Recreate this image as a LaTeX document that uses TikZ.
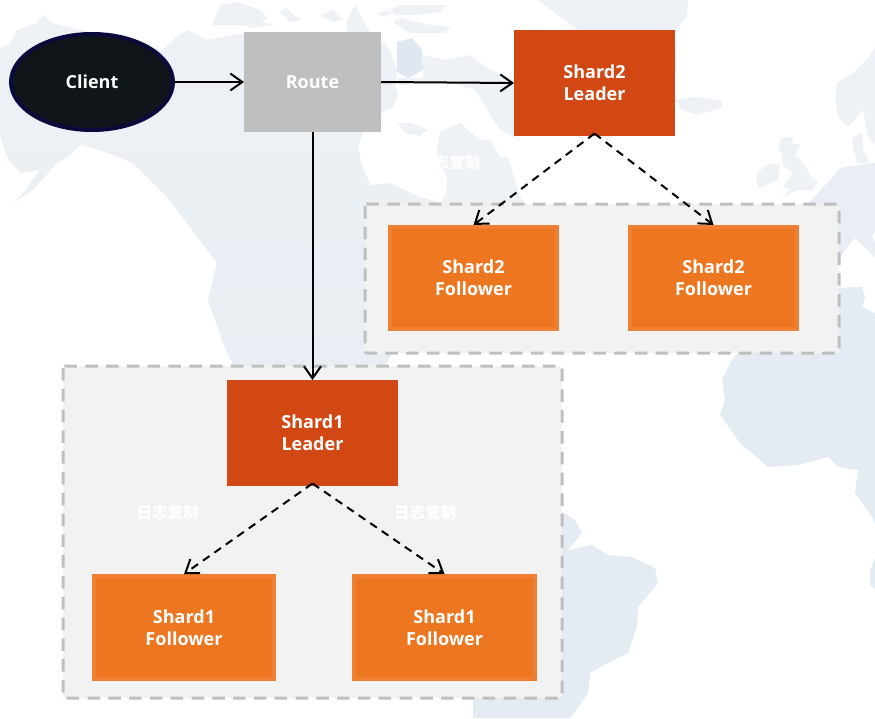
\documentclass[tikz,border=0pt]{standalone}
\usepackage{fontspec}
\setmainfont{Open Sans}
\newfontfamily\cjkfont{Noto Sans CJK SC}
\usetikzlibrary{shapes.geometric,arrows.meta}
\definecolor{landN}{HTML}{EEF2F6}
\definecolor{landM}{HTML}{E9EEF4}
\definecolor{landS}{HTML}{E5EBF2}
\definecolor{landD}{HTML}{E0E7F0}
\definecolor{panelfill}{HTML}{F2F2F2}
\definecolor{panelline}{HTML}{BFBFBF}
\definecolor{leaderfill}{HTML}{D14815}
\definecolor{followerfill}{HTML}{ED7620}
\definecolor{followerline}{HTML}{EF8033}
\definecolor{clientfill}{HTML}{0F1519}
\definecolor{clientline}{HTML}{0B0A3C}
\tikzset{
  boxtext/.style={text=white,font=\fontsize{18}{22}\selectfont\bfseries,align=center,inner sep=0pt},
  leaderbox/.style={boxtext,rectangle,fill=leaderfill,outer sep=0pt},
  followerbox/.style={boxtext,rectangle,fill=followerfill,draw=followerline,line width=4pt},
  routebox/.style={boxtext,rectangle,fill=panelline,outer sep=0pt,minimum width=137pt,minimum height=100pt},
  clientshape/.style={boxtext,ellipse,fill=clientfill,draw=clientline,line width=4pt,minimum width=162pt,minimum height=96pt},
  panelbox/.style={fill=panelfill,draw=panelline,line width=3pt,dash pattern=on 12.5pt off 8.3pt,rounded corners=2pt},
  solidlink/.style={draw=black,line width=2pt,-{Straight Barb[length=12pt,width=17pt,line width=2pt]}},
  dashlink/.style={draw=black,line width=2pt,dash pattern=on 8pt off 6pt,-{Straight Barb[length=12pt,width=17pt,line width=2pt]}},
  loglabel/.style={text=white,font=\fontsize{15.5}{18}\selectfont\cjkfont\bfseries,inner sep=0pt},
  landn/.style={fill=landN},
  landm/.style={fill=landM},
  lands/.style={fill=landS},
  landd/.style={fill=landD},
}
\begin{document}
\begin{tikzpicture}[x=1pt,y=-1pt]
\useasboundingbox (0,0) rectangle (875,718);
\fill[white] (0,0) rectangle (875,718);
% North America
\path[top color=landN,bottom color=landM] (0,48) -- (10,43) -- (17,30) -- (37,23) -- (43,15) -- (53,23) -- (120,40) -- (163,50) -- (175,38) -- (188,30) -- (200,36) -- (207,40) -- (244,33) -- (381,40) -- (390,50) -- (397,70) -- (395,85) -- (398,95) -- (392,108) -- (380,113) -- (362,135) -- (358,147) -- (362,165) -- (370,185) -- (390,183) -- (420,197) -- (445,204) -- (400,340) -- (385,366) -- (240,380) -- (223,343) -- (208,300) -- (217,263) -- (190,227) -- (167,197) -- (133,163) -- (100,150) -- (80,145) -- (70,155) -- (57,163) -- (33,190) -- (13,203) -- (22,194) -- (40,170) -- (20,173) -- (7,157) -- (0,135) -- cycle;
% Arctic islands, west
\path[landn] (212,25) -- (220,5) -- (237,2) -- (260,10) -- (268,18) -- (262,22) -- (275,25) -- (253,28) -- (243,25) -- (220,25) -- cycle;
\path[landn] (280,12) -- (287,8) -- (293,15) -- (303,20) -- (290,22) -- cycle;
\path[landn] (320,15) -- (333,10) -- (343,20) -- (333,22) -- cycle;
\path[landn] (347,20) -- (355,5) -- (363,20) -- (370,32) -- (347,32) -- cycle;
\path[landn] (377,14) -- (385,11) -- (393,12) -- (385,17) -- cycle;
% Arctic islands, east
\path[landn] (390,10) -- (400,5) -- (447,5) -- (440,12) -- (415,15) -- (395,15) -- cycle;
\path[landn] (393,22) -- (400,18) -- (430,25) -- (450,27) -- (445,33) -- (410,33) -- cycle;
\path[landn] (397,78) -- (423,78) -- (423,55) -- (445,60) -- (470,55) -- (490,70) -- (514,80) -- (514,135) -- (520,140) -- (500,130) -- (483,103) -- (475,90) -- (450,82) -- (420,82) -- (400,85) -- cycle;
\path[landd] (397,42) -- (412,38) -- (422,50) -- (423,70) -- (408,78) -- (397,72) -- cycle;
\path[landn] (398,123) -- (412,123) -- (427,130) -- (420,136) -- (405,133) -- cycle;
% Quebec and Labrador
\path[landn] (440,132) -- (460,123) -- (480,140) -- (490,140) -- (500,157) -- (508,157) -- (520,197) -- (527,206) -- (440,206) -- (447,190) -- (447,177) -- (440,165) -- (437,150) -- cycle;
% Greenland
\path[landn] (538,0) -- (688,0) -- (687,17) -- (675,30) -- (676,70) -- (650,110) -- (608,140) -- (585,133) -- (560,100) -- (578,30) -- cycle;
% Iceland
\path[landn] (675,100) -- (695,97) -- (722,101) -- (722,107) -- (698,115) -- (682,110) -- cycle;
% Ireland and Britain
\path[landn] (758,172) -- (770,163) -- (780,165) -- (778,180) -- (760,188) -- (756,183) -- cycle;
\path[landn] (782,138) -- (793,137) -- (792,143) -- (800,145) -- (795,155) -- (803,163) -- (812,178) -- (818,182) -- (812,190) -- (797,190) -- (782,198) -- (790,190) -- (783,187) -- (793,173) -- (783,165) -- (782,155) -- (778,147) -- cycle;
% Scandinavia and Denmark
\path[landn] (875,47) -- (867,60) -- (853,73) -- (837,83) -- (835,97) -- (838,117) -- (848,127) -- (863,110) -- (868,137) -- (875,145) -- cycle;
\path[landn] (853,137) -- (862,133) -- (863,150) -- (870,163) -- (857,163) -- (852,143) -- cycle;
% Europe
\path[landm] (875,163) -- (858,165) -- (840,168) -- (830,180) -- (818,193) -- (807,204) -- (800,215) -- (830,215) -- (830,258) -- (839,258) -- (855,238) -- (868,250) -- (875,258) -- (875,242) -- (872,237) -- (875,230) -- cycle;
% Africa
\path[lands] (830,288) -- (862,287) -- (865,297) -- (862,307) -- (875,313) -- (875,525) -- (872,517) -- (855,493) -- (858,470) -- (838,467) -- (828,457) -- (798,465) -- (768,467) -- (740,443) -- (720,415) -- (725,400) -- (722,380) -- (732,360) -- (745,345) -- cycle;
% Madagascar
\path[lands] (875,558) -- (870,570) -- (870,585) -- (875,590) -- cycle;
% South America
\path[lands] (540,480) -- (562,512) -- (575,520) -- (582,533) -- (568,550) -- (578,548) -- (592,545) -- (608,555) -- (632,557) -- (655,568) -- (658,583) -- (638,607) -- (637,627) -- (628,653) -- (608,663) -- (590,673) -- (588,693) -- (570,718) -- (473,718) -- (473,690) -- cycle;
% Panels
\draw[panelbox] (365,204) rectangle (839,353);
\draw[panelbox] (63,366) rectangle (562,698);
% Log labels
\node[loglabel] (logc) at (449,163) {日志复制};
\node[loglabel] (loga) at (167.5,513) {日志复制};
\node[loglabel] (logb) at (425,513) {日志复制};
% Nodes
\node[clientshape] (client) at (92,82) {Client};
\node[routebox] (route) at (312.5,82) {Route};
\node[leaderbox,minimum width=161pt,minimum height=106pt] (l2) at (594.5,83) {Shard2\\Leader};
\node[followerbox,minimum width=167pt,minimum height=102pt] (f2a) at (473.5,278) {Shard2\\Follower};
\node[followerbox,minimum width=167pt,minimum height=102pt] (f2b) at (713.5,278) {Shard2\\Follower};
\node[leaderbox,minimum width=171pt,minimum height=106pt] (l1) at (312.5,433) {Shard1\\Leader};
\node[followerbox,minimum width=180pt,minimum height=103pt] (f1a) at (184,627.5) {Shard1\\Follower};
\node[followerbox,minimum width=181pt,minimum height=103pt] (f1b) at (444.5,627.5) {Shard1\\Follower};
% Connectors
\draw[solidlink] (client.east) -- (route.west);
\draw[solidlink] (route.east) -- (l2.west);
\draw[solidlink] (route.south) -- (l1.north);
\draw[dashlink] ([yshift=2.5pt]l2.south) -- (f2a.north);
\draw[dashlink] ([yshift=2.5pt]l2.south) -- (f2b.north);
\draw[dashlink] ([yshift=2.5pt]l1.south) -- (f1a.north);
\draw[dashlink] ([yshift=2.5pt]l1.south) -- (f1b.north);
\end{tikzpicture}
\end{document}
